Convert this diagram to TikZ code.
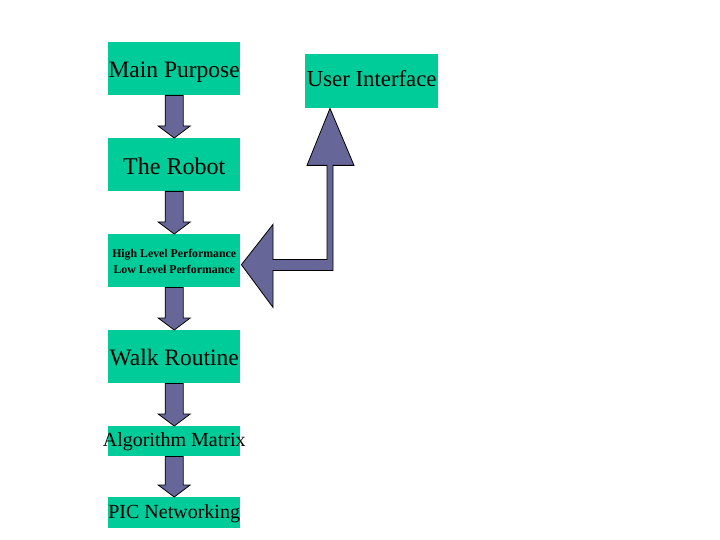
\documentclass[tikz,border=0pt]{standalone}
\usepackage{fontspec}
\setmainfont{Liberation Serif}
\usetikzlibrary{calc}
\definecolor{boxgreen}{RGB}{0,204,153}
\definecolor{arrowblue}{RGB}{102,102,153}
\tikzset{
  box/.style={fill=boxgreen, draw=none, minimum width=132pt, inner sep=0pt, anchor=north west, align=center},
  baseoff/.style={text height=#1, text depth=0pt},
  blockarrow/.style={fill=arrowblue, draw=black, line width=0.8pt, line join=miter}
}
\newcommand{\fixw}[1]{\makebox[132pt][c]{#1}}
\newcommand{\blockdown}[2]{%
  \draw[blockarrow] ($(#1.south)+(-9,0)$) -- ($(#2.north)+(-9,-12)$) -- ($(#2.north)+(-16,-12)$)
    -- (#2.north) -- ($(#2.north)+(16,-12)$) -- ($(#2.north)+(9,-12)$) -- ($(#1.south)+(9,0)$) -- cycle;}
\begin{document}
\begin{tikzpicture}[x=1pt,y=-1pt]
\path[use as bounding box] (0,0) rectangle (720,540);
\node[box, minimum height=53pt, baseoff=18.4pt, font=\fontsize{23.5}{26}\selectfont] (mp) at (108,42) {\fixw{Main Purpose}};
\node[box, minimum height=53pt, baseoff=19.6pt, font=\fontsize{24}{26}\selectfont] (rb) at (108,138) {\fixw{The Robot}};
\node[box, minimum height=53pt, font=\bfseries\fontsize{11.8}{15.5}\selectfont] (hl) at (108,234) {\rule{0pt}{10pt}High Level Performance\\Low Level Performance};
\node[box, minimum height=53pt, baseoff=17pt, font=\fontsize{23.5}{26}\selectfont] (wr) at (108,330) {\fixw{Walk Routine}};
\node[box, minimum height=30pt, baseoff=11.4pt, font=\fontsize{20}{22}\selectfont] (am) at (108,426) {\fixw{Algorithm Matrix}};
\node[box, minimum height=31pt, baseoff=11pt, font=\fontsize{20}{22}\selectfont] (pic) at (108,497) {\fixw{PIC Networking}};
\node[box, minimum width=133pt, minimum height=54pt, baseoff=10pt, font=\fontsize{22.8}{25}\selectfont] (ui) at (305,54) {User Interface};
\blockdown{mp}{rb}
\blockdown{rb}{hl}
\blockdown{hl}{wr}
\blockdown{wr}{am}
\blockdown{am}{pic}
\coordinate (t1) at ($(ui.south west)+(25,0)$);
\coordinate (t2) at ($(hl.east)+(1,4)$);
\draw[blockarrow] (t1) -- ($(t1)+(24,57)$) -- ($(t1)+(3,57)$) -- ($(t1)+(3,162)$)
  -- ($(t1)+(-57,162)$) -- ($(t1)+(-57,199)$) -- (t2) -- ($(t1)+(-57,116)$) -- ($(t1)+(-57,151)$)
  -- ($(t1)+(-3,151)$) -- ($(t1)+(-3,57)$) -- ($(t1)+(-23,57)$) -- cycle;
\end{tikzpicture}
\end{document}
